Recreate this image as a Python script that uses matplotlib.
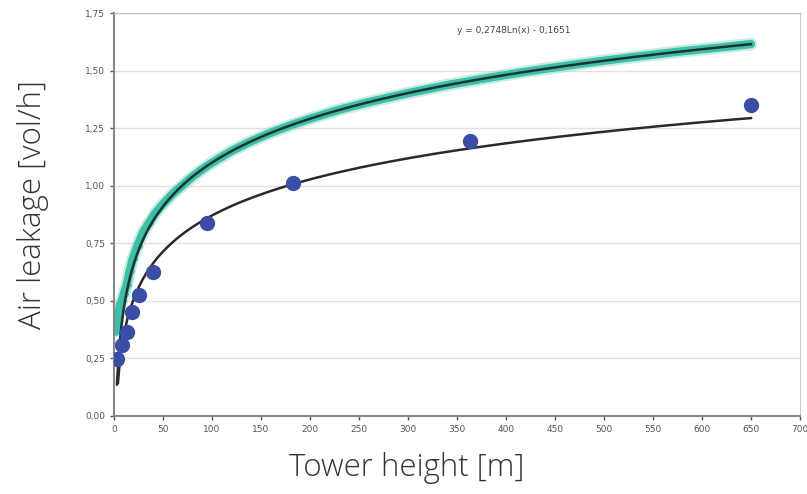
import numpy as np
import matplotlib
matplotlib.use("Agg")
import matplotlib.pyplot as plt

# measured air leakage per tower (blue dots)
tower_x = [3, 8, 13, 18, 26, 40, 95, 183, 363, 650]
tower_y = [0.248, 0.31, 0.365, 0.45, 0.525, 0.625, 0.84, 1.01, 1.195, 1.35]

# simulated points (teal band)
sim_x = [2, 4, 6, 8, 10, 13, 16, 19, 24, 30, 36, 42, 50, 60, 70, 80, 90, 100,
         120, 140, 160, 180, 200, 230, 260, 300, 340, 380, 420, 460, 500,
         540, 580, 620, 650]
sim_y = [0.37, 0.43, 0.48, 0.50, 0.53, 0.57, 0.63, 0.68, 0.74, 0.80, 0.84,
         0.88, 0.92, 0.965, 1.002, 1.039, 1.071, 1.100, 1.151, 1.193, 1.230,
         1.262, 1.291, 1.330, 1.363, 1.402, 1.437, 1.467, 1.495, 1.520,
         1.543, 1.564, 1.584, 1.601, 1.615]

# logarithmic trendlines y = a*ln(x) + b
sim_fit = (0.2748, -0.1651)
tower_fit = (0.226, -0.17)
eq_label = "y = 0,2748Ln(x) - 0,1651"

x_ticks = list(range(0, 701, 50))
y_ticks = [0, 0.25, 0.5, 0.75, 1.0, 1.25, 1.5, 1.75]

fig = plt.figure(figsize=(8.07, 4.94), dpi=100)
ax = fig.add_axes([114 / 807, 1 - 416 / 494, (800 - 114) / 807, (416 - 13) / 494])

# teal simulated band: soft halo + core + markers
ax.plot(sim_x, sim_y, color="#9fe0d4", lw=9, alpha=0.6, solid_capstyle="round", zorder=2)
ax.plot(sim_x, sim_y, color="#3fbfa8", lw=6, solid_capstyle="round", zorder=2)
ax.plot(sim_x[:12], sim_y[:12], "D", color="#3fbfa8", ms=4, zorder=2)

xs = np.linspace(3, 650, 400)
ax.plot(xs, sim_fit[0] * np.log(xs) + sim_fit[1], color="#1b3434", lw=1.8, zorder=3)

xt = np.linspace(4, 650, 400)
ax.plot(xt, tower_fit[0] * np.log(xt) + tower_fit[1], color="#2a2a2a", lw=1.8, zorder=3)

ax.plot(tower_x, tower_y, "o", color="#3a4ea8", ms=10, zorder=4)

ax.text(0.50, 0.95, eq_label, transform=ax.transAxes, fontsize=6.5, color="#444")

ax.set_xlim(0, 700)
ax.set_ylim(0, 1.75)
ax.set_xticks(x_ticks)
ax.set_yticks(y_ticks)
ax.set_xticklabels([str(v) for v in x_ticks])
ax.set_yticklabels([f"{v:.2f}".replace(".", ",") for v in y_ticks])
ax.tick_params(labelsize=6.5, colors="#555", length=3, width=1)
ax.grid(axis="y", color="#e2e2e2", lw=1)
ax.set_axisbelow(True)
for s in ["left", "bottom"]:
    ax.spines[s].set_color("#888")
    ax.spines[s].set_linewidth(1.5)
ax.spines["top"].set_color("#bbb")
ax.spines["right"].set_color("#ccc")

label_font = ["Open Sans", "DejaVu Sans"]
fig.text(407 / 807, 1 - 468 / 494, "Tower height [m]", ha="center", va="center",
         fontsize=22.5, color="#333333", family=label_font, fontweight="light")
fig.text(33 / 807, 1 - 205 / 494, "Air leakage [vol/h]", ha="center", va="center",
         rotation=90, fontsize=22.5, color="#333333", family=label_font, fontweight="light")

fig.savefig("out.png", dpi=100)
